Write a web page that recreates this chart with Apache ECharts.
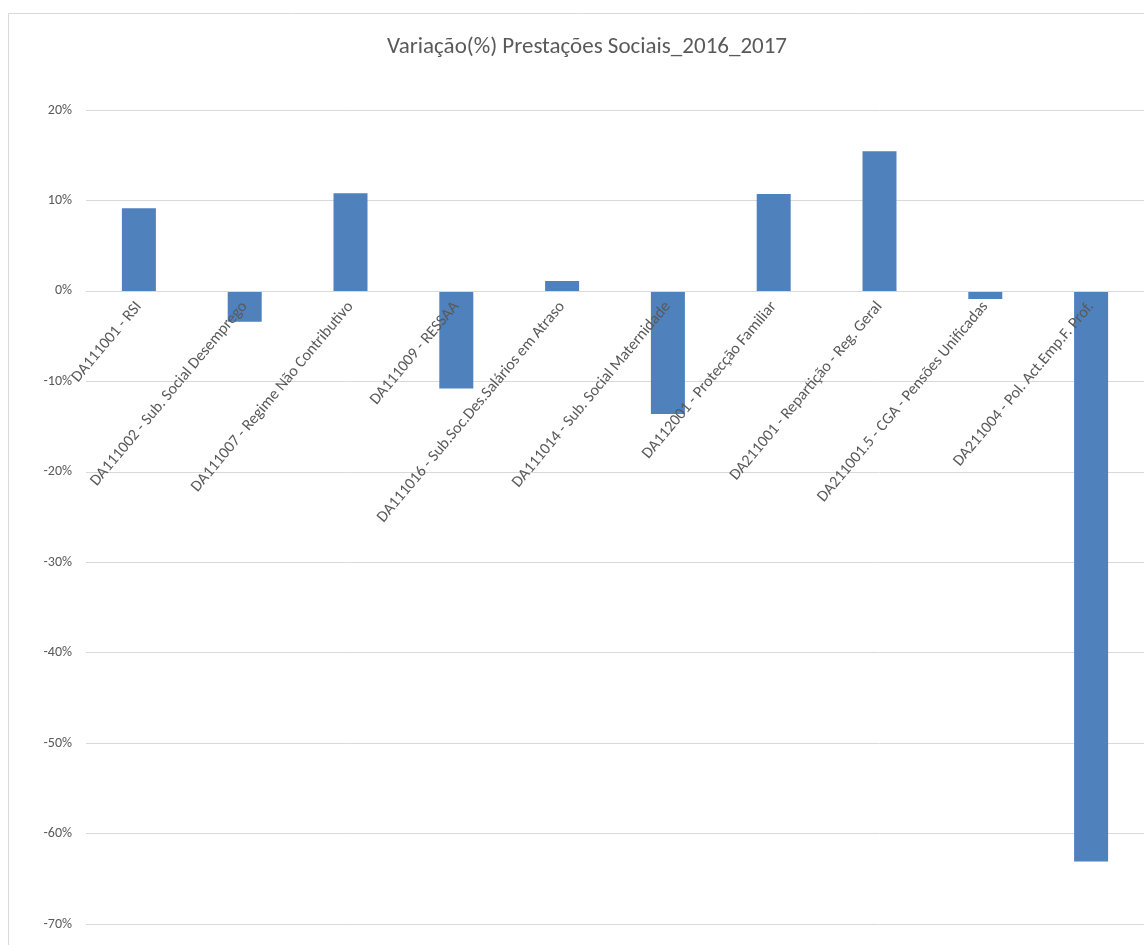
<!DOCTYPE html>
<html>
<head>
<meta charset="utf-8">
<script src="https://cdn.jsdelivr.net/npm/echarts@6/dist/echarts.min.js"></script>
<style>
html,body{margin:0;padding:0;background:#fff;}
#chart{width:1144px;height:945px;}
</style>
</head>
<body>
<div id="chart"></div>
<script>
const titleText = 'Variação(%) Prestações Sociais_2016_2017';
const categories = [
  'DA111001 - RSI',
  'DA111002 - Sub. Social Desemprego',
  'DA111007 - Regime Não Contributivo',
  'DA111009 - RESSAA',
  'DA111016 - Sub.Soc.Des.Salários em Atraso',
  'DA111014 - Sub. Social Maternidade',
  'DA112001 - Protecção Familiar',
  'DA211001 - Repartição - Reg. Geral',
  'DA211001.5 - CGA - Pensões Unificadas',
  'DA211004 - Pol. Act.Emp.F. Prof.'
];
const variation = [9.15, -3.4, 10.8, -10.8, 1.1, -13.6, 10.7, 15.45, -0.9, -63.1];
const yMin = -70, yMax = 20, yStep = 10;

const gridTop = 110, gridBottom = 21, gridLeft = 86, gridWidth = 1072;
const plotH = 945 - gridTop - gridBottom;
const zeroOffset = -plotH * (0 - yMin) / (yMax - yMin);

const font = 'Carlito, "Liberation Sans Narrow", "DejaVu Sans Condensed", sans-serif';
const chart = echarts.init(document.getElementById('chart'));
chart.setOption({
  animation: false,
  backgroundColor: '#fff',
  title: {
    text: titleText,
    left: 582,
    textAlign: 'center',
    top: 31,
    textStyle: {color: '#595959', fontSize: 23, fontWeight: 'normal', fontFamily: font}
  },
  graphic: [{
    type: 'rect', shape: {x: 8.5, y: 13.5, width: 1200, height: 1000},
    style: {fill: 'none', stroke: '#d9d9d9', lineWidth: 1}, silent: true
  }],
  grid: {left: gridLeft, top: gridTop, width: gridWidth, bottom: gridBottom, containLabel: false},
  xAxis: {
    type: 'category',
    data: categories,
    offset: zeroOffset,
    z: 5,
    axisLine: {onZero: false, lineStyle: {color: '#d9d9d9', width: 1}},
    axisTick: {show: false},
    axisLabel: {rotate: 50, interval: 0, color: '#595959', fontSize: 16, fontFamily: font, margin: 13}
  },
  yAxis: {
    type: 'value',
    min: yMin, max: yMax, interval: yStep,
    axisLine: {show: false},
    axisTick: {show: false},
    axisLabel: {formatter: '{value}%', color: '#595959', fontSize: 14, fontFamily: font, margin: 14},
    splitLine: {lineStyle: {color: '#d9d9d9', width: 1}}
  },
  series: [{
    type: 'bar',
    data: variation,
    barWidth: 34,
    z: 2,
    itemStyle: {color: '#4f81bd'}
  }]
});
</script>
</body>
</html>
